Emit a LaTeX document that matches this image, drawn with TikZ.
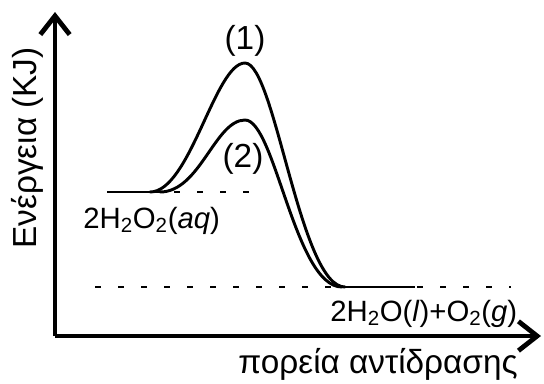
\documentclass[tikz,border=0pt]{standalone}
\usepackage{fontspec}
\setmainfont{Liberation Sans}
\usetikzlibrary{arrows.meta}

\begin{document}
\begin{tikzpicture}[
  x=0.75pt,y=-0.75pt,
  axis/.style={line width=3.6pt,-{Straight Barb[length=14pt,width=22pt,line width=3.6pt]}},
  curve/.style={line width=2.2pt,line cap=round},
  level/.style={line width=2.2pt},
  dots/.style={line width=2.2pt,dash pattern=on 4.5pt off 12.75pt},
  lbl/.style={inner sep=0pt,font=\fontsize{22}{26}\selectfont},
  tslbl/.style={inner sep=0pt,font=\fontsize{25}{30}\selectfont},
  axlbl/.style={inner sep=0pt,font=\fontsize{25}{30}\selectfont},
]
  \useasboundingbox (0,0) rectangle (544,383);
  \coordinate (o) at (55,336);
  \coordinate (ytip) at (55,12);
  \coordinate (xtip) at (541,336);
  \coordinate (rs) at (107,192);
  \coordinate (r1) at (150,192);
  \coordinate (r2) at (160,192);
  \coordinate (re) at (166,192);
  \coordinate (ts1) at (245,63);
  \coordinate (ts2) at (245,120);
  \coordinate (p1) at (345,287);
  \coordinate (p2) at (342,287);
  \coordinate (pe) at (415,287);
  \draw[dots] (174,192) -- (250,192);
  \draw[dots] (95,287) -- (511,287);
  \draw[level] (rs) -- (re);
  \draw[level] (p2) -- (pe);
  \draw[curve] (r1) .. controls +(40,0) and +(-30,0) .. (ts1)
                    .. controls +(30,0) and +(-45,0) .. (p1);
  \draw[curve] (r2) .. controls +(40,0) and +(-30,0) .. (ts2)
                    .. controls +(30,0) and +(-47,0) .. (p2);
  \draw[axis] (o) -- (ytip);
  \draw[axis] (o) -- (xtip);
  \node[tslbl] (l1) at (245,41) {(1)};
  \node[tslbl] (l2) at (243,159) {(2)};
  \node[lbl,anchor=base west] (react) at (83,228)
    {2H\textsubscript{2}O\textsubscript{2}(\textit{aq})};
  \node[lbl,anchor=base west] (prod) at (330,321)
    {2H\textsubscript{2}O(\textit{l})+O\textsubscript{2}(\textit{g})};
  \node[axlbl,rotate=90] (ylab) at (27,148) {Ενέργεια (KJ)};
  \node[axlbl] (xlab) at (378,364) {πορεία αντίδρασης};
\end{tikzpicture}
\end{document}
